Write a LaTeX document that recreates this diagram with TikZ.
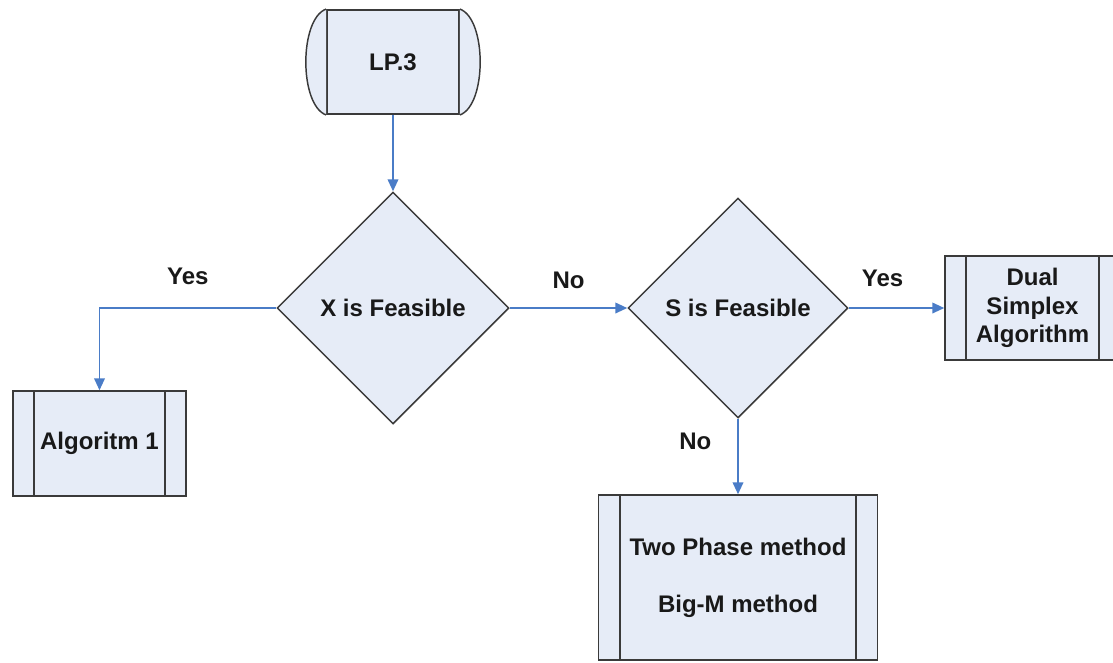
\documentclass[tikz,border=0pt]{standalone}
\usepackage{fontspec}
\setmainfont{Liberation Sans}
\usetikzlibrary{positioning,calc,shapes.geometric,arrows.meta}

\definecolor{boxfill}{HTML}{E6ECF7}
\definecolor{edgegray}{HTML}{3A3A3A}
\definecolor{flowblue}{HTML}{4A7CC7}

\tikzset{
    box/.style={draw=edgegray, fill=boxfill, line width=1.1pt, inner sep=0pt, align=center},
    proc/.style={box, path picture={
        \draw[edgegray, line width=1.5pt]
            ([xshift=16pt]path picture bounding box.north west) -- ([xshift=16pt]path picture bounding box.south west)
            ([xshift=-16pt]path picture bounding box.north east) -- ([xshift=-16pt]path picture bounding box.south east);
    }},
    decision/.style={box, diamond, minimum width=#1, minimum height=#1},
    flow/.style={draw=flowblue, line width=1.3pt, -{Triangle[length=9pt,width=8pt]}},
    lbl/.style={text=black!90}
}

\begin{document}
\begin{tikzpicture}[x=0.75pt, y=-0.75pt,
    every node/.style={font=\fontsize{18}{21.6}\selectfont\bfseries, text=black!90}]
    \clip (0,0) rectangle (1113,662);

    \node (lp) [box, line width=1.4pt, minimum width=99pt, minimum height=78pt] at (393,62) {LP.3};
    \node (xf) [decision=174pt] at (393,308) {X is Feasible};
    \node (sf) [decision=165pt] at (738,308) {S is Feasible};
    \node (alg) [proc, minimum width=129.75pt, minimum height=78.75pt] at (99.5,443.5) {Algoritm 1};
    \node (dual) [proc, minimum width=131.25pt, minimum height=78pt] at (1032.5,308) {Dual\\Simplex\\Algorithm};
    \node (twop) [proc, minimum width=209.25pt, minimum height=123.75pt] at (738,577.5) {Two Phase method\\[21pt]Big-M method};

    % rounded ends of the start shape
    \draw[draw=edgegray, fill=boxfill, line width=1.1pt]
        (lp.north west) .. controls +(-27,10) and +(-27,-10) .. (lp.south west);
    \draw[draw=edgegray, fill=boxfill, line width=1.1pt]
        (lp.north east) .. controls +(27,10) and +(27,-10) .. (lp.south east);

    \draw[flow] (lp.south) -- (xf.north);
    \draw[flow] (xf.west) -| node[lbl, pos=0.25, yshift=24pt] {Yes} (alg.north);
    \draw[flow] (xf.east) -- node[lbl, midway, yshift=21pt] {No} (sf.west);
    \draw[flow] (sf.east) -- node[lbl, midway, xshift=-10.5pt, yshift=22.5pt] {Yes} (dual.west);
    \draw[flow] (sf.south) -- node[lbl, midway, xshift=-32pt, yshift=11pt] {No} (twop.north);
\end{tikzpicture}
\end{document}
